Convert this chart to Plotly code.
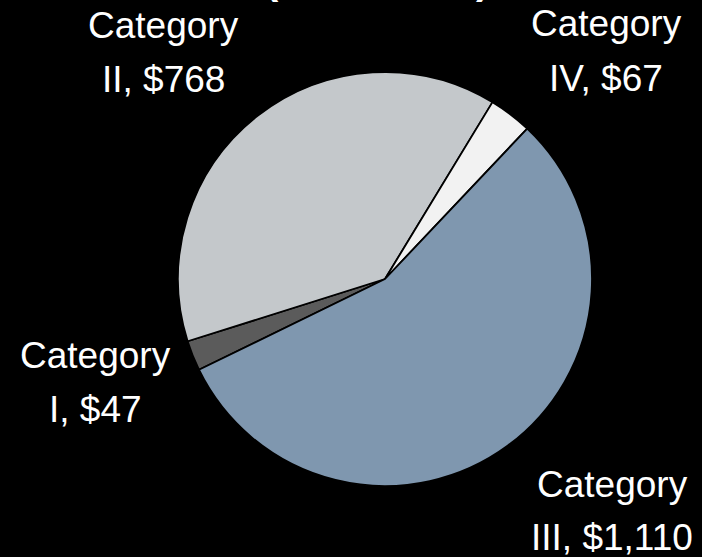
import plotly.graph_objects as go

# slices in clockwise order, starting at the lower-left edge
categories = ['I', 'II', 'IV', 'III']
values = [47, 768, 67, 1110]
colors = ['#5b5b5b', '#c4c8cb', '#f2f2f2', '#7f97af']

# where each label's two text lines sit (pixels from top-left): x centre, baselines
label_x = [95, 163, 606, 612]
label_base1 = [368, 38, 37, 497]
label_base2 = [422, 92, 91, 550]

W, H = 702, 557
FONT = 'Liberation Sans, Arial, sans-serif'

fig = go.Figure(go.Pie(
    labels=['Category ' + c for c in categories],
    values=values,
    sort=False,
    direction='clockwise',
    rotation=244,
    marker=dict(colors=colors, line=dict(color='black', width=1.8)),
    textinfo='none',
    domain=dict(x=[0.2536, 0.8433], y=[0.1275, 0.8707]),
    showlegend=False,
    hoverinfo='label+value+percent',
))

# data labels, one annotation per text line
for cat, val, x, b1, b2 in zip(categories, values, label_x, label_base1, label_base2):
    for txt, base in (('Category', b1), (f'{cat}, ${val:,}', b2)):
        fig.add_annotation(
            text=txt, xref='paper', yref='paper',
            x=x / W, y=1 - (base - 13) / H, xanchor='center', yanchor='middle',
            showarrow=False,
            font=dict(family=FONT, size=37, color='white'),
        )

# title sits mostly above the visible area, only the bottom of the brackets shows
fig.add_annotation(
    text='<b>(in millions)</b>', xref='paper', yref='paper',
    x=0.537, y=1.0, yanchor='bottom', yshift=-4, showarrow=False,
    font=dict(family=FONT, size=40, color='white'),
)

fig.update_layout(
    width=W, height=H,
    margin=dict(l=0, r=0, t=0, b=0),
    paper_bgcolor='black',
    plot_bgcolor='black',
)

fig.write_html("out.html", config={'displayModeBar': False},
               post_script="document.body.style.margin='0';")
